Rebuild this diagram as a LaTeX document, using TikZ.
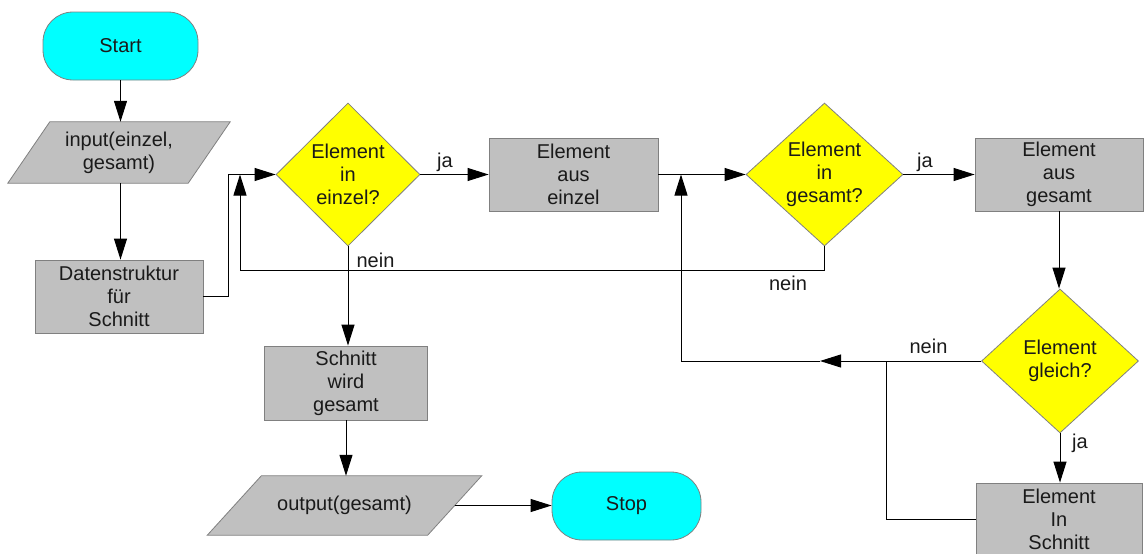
\documentclass[tikz,border=0pt]{standalone}
\usepackage{fontspec}
\setmainfont{Liberation Sans}
\usetikzlibrary{arrows.meta,shapes.geometric,backgrounds}
\definecolor{termfill}{HTML}{00FFFF}
\definecolor{procfill}{HTML}{C0C0C0}
\definecolor{decfill}{HTML}{FFFF00}
\definecolor{edgegray}{HTML}{808080}
\definecolor{ink}{HTML}{1A1A1A}

\begin{document}
\begin{tikzpicture}[x=1pt,y=-1pt,
  every node/.style={font=\fontsize{20}{23}\selectfont, text=ink, inner sep=0pt, align=center},
  terminal/.style={rectangle, rounded corners=30pt, draw=edgegray, fill=termfill, line width=0.8pt},
  process/.style={rectangle, draw=edgegray, fill=procfill, line width=0.8pt},
  decision/.style={diamond, aspect=1, draw=edgegray, fill=decfill, line width=0.8pt},
  iobox/.style={rectangle},
  iofill/.style={fill=procfill, draw=edgegray, line width=0.8pt},
  flow/.style={draw=black, line width=1pt},
  arr/.style={flow, -{Triangle[length=21pt,width=13pt]}},
  lbl/.style={anchor=base}
]
\useasboundingbox (0,0) rectangle (1144,554);

% --- nodes ---
\node[terminal, minimum width=155pt, minimum height=68pt] (start) at (120.5,46) {Start};
\node[iobox, minimum width=180pt, minimum height=61pt] (in) at (119,152.5) {input(einzel,\\gesamt)};
\node[process, minimum width=168pt, minimum height=73pt] (ds) at (119,296.5) {Datenstruktur\\für\\Schnitt};
\node[decision, minimum width=144pt, minimum height=143pt] (d1) at (348,174.5) {Element\\in\\einzel?};
\node[process, minimum width=169pt, minimum height=73pt] (b1) at (573.5,174.5) {Element\\aus\\einzel};
\node[decision, minimum width=157pt, minimum height=143pt] (d2) at (824.5,174.5) {Element\\in\\gesamt?};
\node[process, minimum width=168pt, minimum height=73pt] (b2) at (1059,174.5) {Element\\aus\\gesamt};
\node[decision, minimum width=157pt, minimum height=144pt] (d3) at (1060,361) {Element\\gleich?};
\node[process, minimum width=166pt, minimum height=73pt] (b3) at (1059,519.5) {Element\\In\\Schnitt};
\node[process, minimum width=163pt, minimum height=74pt] (sn) at (346,383) {Schnitt\\wird\\gesamt};
\node[iobox, minimum width=220pt, minimum height=59pt] (out) at (344.5,505.5) {output(gesamt)};
\node[terminal, minimum width=149pt, minimum height=68pt] (stop) at (626.5,506) {Stop};

% parallelogram outlines of the input/output nodes
\begin{scope}[on background layer]
  \path[iofill] ([xshift=21pt]in.north west) -- ([xshift=21pt]in.north east)
    -- ([xshift=-21pt]in.south east) -- ([xshift=-21pt]in.south west) -- cycle;
  \path[iofill] ([xshift=27pt]out.north west) -- ([xshift=27pt]out.north east)
    -- ([xshift=-27pt]out.south east) -- ([xshift=-27pt]out.south west) -- cycle;
\end{scope}

% --- junction points ---
\coordinate (j1) at (228,174.5);
\coordinate (j2) at (240,174.5);
\coordinate (j3) at (240,270);
\coordinate (j4) at (681,174.5);
\coordinate (m1) at (820,361);
\coordinate (j5) at (886,361);

% --- connectors ---
\draw[arr] (start) -- (start |- in.north);
\draw[arr] (in.south -| start) -- (start |- ds.north);
\draw[arr] (ds.east) -| (j1) -- (d1.west);
\draw[arr] (d1.east) -- (b1.west);
\draw[arr] (b1.east) -- (d2.west);
\draw[arr] (d2.east) -- (b2.west);
\draw[arr] (b2.south) -- (b2.south |- d3.north);
\draw[arr] (d3.south) -- (d3.south |- b3.north);
\draw[arr] (d2.south) |- (j3) -- (j2);
\draw[arr] (d1.south) -- (d1.south |- sn.north);
\draw[arr] (sn.south) -- (sn.south |- out.north);
\draw[arr] (out.east) -- (out.east -| stop.west);
\draw[arr] (d3.west) -- (m1);
\draw[arr] (m1) -| (j4);
\draw[flow] (b3.west) -| (j5);

% --- connector labels ---
\node[lbl] (l1) at (445,167) {ja};
\node[lbl] (l2) at (925,167) {ja};
\node[lbl] (l3) at (1080,448) {ja};
\node[lbl] (l4) at (375.5,267) {nein};
\node[lbl] (l5) at (788,290) {nein};
\node[lbl] (l6) at (928.5,353) {nein};
\end{tikzpicture}
\end{document}
